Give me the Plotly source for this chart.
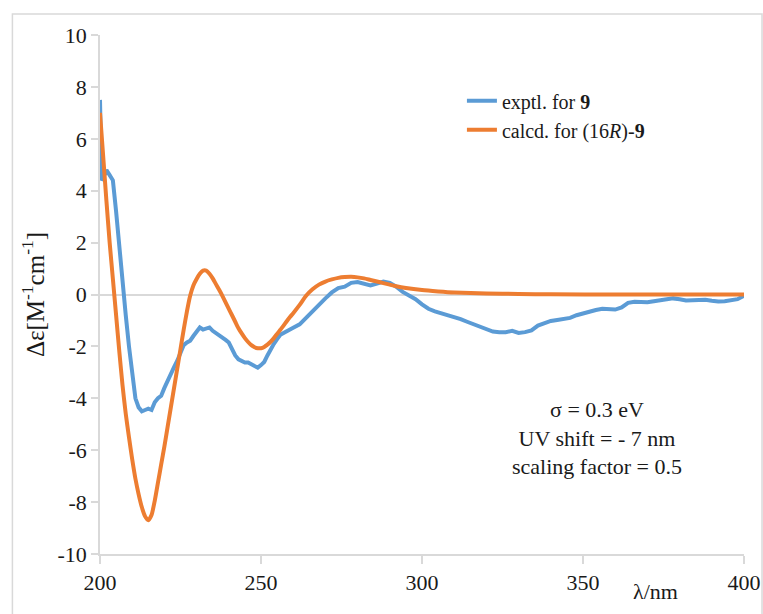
import plotly.graph_objects as go

# Experimental CD (blue)
exp_wl = [200, 200.5, 201, 202, 203, 204, 205, 206, 207, 208, 209, 210, 211, 212, 213, 214, 215, 216,
          217, 218, 219, 220, 221, 222, 223, 224, 225, 226, 227, 228, 229, 230, 231, 232, 233, 234,
          235, 236, 237, 238, 239, 240, 241, 242, 243, 244, 245, 246, 247, 248, 249, 250, 251, 252,
          253, 254, 255, 256, 257, 258, 260, 262, 264, 266, 268, 270, 272, 274, 276, 278, 280, 282,
          284, 286, 288, 290, 292, 294, 296, 298, 300, 302, 304, 306, 308, 310, 312, 314, 316, 318,
          320, 322, 324, 326, 328, 330, 332, 334, 336, 338, 340, 342, 344, 346, 348, 350, 352, 354,
          356, 358, 360, 362, 364, 366, 368, 370, 372, 374, 376, 378, 380, 382, 384, 386, 388, 390,
          392, 394, 396, 398, 400]
exp_de = [7.5, 4.4, 4.5, 4.8, 4.6, 4.4, 3.2, 1.8, 0.3, -0.8, -2.0, -3.0, -4.0, -4.35, -4.5, -4.45,
          -4.4, -4.45, -4.15, -4.0, -3.9, -3.6, -3.3, -3.0, -2.8, -2.55, -2.2, -1.95, -1.85, -1.78,
          -1.6, -1.4, -1.27, -1.35, -1.3, -1.27, -1.4, -1.48, -1.55, -1.65, -1.75, -1.85, -2.1,
          -2.35, -2.5, -2.55, -2.62, -2.62, -2.68, -2.72, -2.82, -2.72, -2.6, -2.35, -2.1, -1.9,
          -1.72, -1.55, -1.48, -1.4, -1.28, -1.15, -0.9, -0.63, -0.35, -0.15, 0.08, 0.25, 0.3,
          0.45, 0.48, 0.42, 0.35, 0.42, 0.5, 0.45, 0.3, 0.1, -0.05, -0.18, -0.38, -0.55, -0.65,
          -0.72, -0.8, -0.85, -0.95, -1.05, -1.15, -1.25, -1.35, -1.43, -1.45, -1.45, -1.4, -1.48,
          -1.45, -1.38, -1.2, -1.1, -1.02, -0.98, -0.95, -0.9, -0.8, -0.72, -0.65, -0.6, -0.55,
          -0.56, -0.58, -0.5, -0.32, -0.28, -0.3, -0.3, -0.26, -0.22, -0.2, -0.15, -0.18, -0.23,
          -0.22, -0.2, -0.2, -0.24, -0.27, -0.26, -0.23, -0.18, -0.05]

# Calculated CD (orange)
calc_wl = [200, 201, 202, 203, 204, 205, 206, 207, 208, 209, 210, 211, 212, 213, 214, 215, 216, 217,
           218, 219, 220, 221, 222, 223, 224, 225, 226, 227, 228, 229, 230, 231, 232, 233, 234, 235,
           236, 237, 238, 239, 240, 241, 242, 243, 244, 245, 246, 247, 248, 249, 250, 251, 252, 253,
           254, 255, 256, 257, 258, 259, 260, 262, 264, 266, 268, 270, 272, 274, 276, 278, 280, 282,
           284, 286, 288, 290, 292, 295, 300, 305, 310, 320, 330, 340, 360, 400]
calc_de = [7.0, 5.3, 3.6, 2.0, 0.6, -0.8, -2.2, -3.5, -4.6, -5.5, -6.35, -7.1, -7.7, -8.2, -8.55,
           -8.7, -8.5, -7.95, -7.25, -6.55, -5.85, -5.1, -4.35, -3.6, -2.85, -2.1, -1.35, -0.65,
           -0.05, 0.35, 0.6, 0.8, 0.92, 0.92, 0.8, 0.62, 0.4, 0.18, -0.05, -0.3, -0.55, -0.8,
           -1.05, -1.3, -1.5, -1.68, -1.83, -1.95, -2.03, -2.07, -2.07, -2.02, -1.93, -1.82, -1.68,
           -1.52, -1.36, -1.2, -1.03, -0.87, -0.72, -0.4, -0.05, 0.2, 0.38, 0.5, 0.58, 0.64, 0.67,
           0.68, 0.66, 0.62, 0.56, 0.5, 0.44, 0.38, 0.32, 0.25, 0.17, 0.12, 0.08, 0.04, 0.02, 0.01,
           0.0, 0.0]

x_ticks = [200, 250, 300, 350, 400]
y_ticks = [-10, -8, -6, -4, -2, 0, 2, 4, 6, 8, 10]

FONT = "Liberation Serif, Times New Roman, serif"
BLUE = "#5B9BD5"
ORANGE = "#ED7D31"
AXIS_GRAY = "#D9D9D9"
TXT = "#1a1a1a"

fig = go.Figure()
fig.add_trace(go.Scatter(x=exp_wl, y=exp_de, mode="lines", name="exptl. for <b>9</b>",
                         line=dict(color=BLUE, width=4)))
fig.add_trace(go.Scatter(x=calc_wl, y=calc_de, mode="lines", name="calcd. for (16<i>R</i>)-<b>9</b>",
                         line=dict(color=ORANGE, width=4, shape="spline", smoothing=0.6)))

fig.update_layout(
    width=763, height=614,
    margin=dict(l=100, r=19, t=35, b=60, autoexpand=False),
    paper_bgcolor="white", plot_bgcolor="white",
    font=dict(family=FONT, size=21, color=TXT),
    showlegend=True,
    legend=dict(x=0.562, y=0.911, xanchor="left", yanchor="top", bgcolor="rgba(0,0,0,0)",
                font=dict(family=FONT, size=20, color=TXT), tracegroupgap=0,
                itemwidth=30),
    xaxis=dict(range=[200, 400], tickvals=x_ticks, ticktext=[str(v) for v in x_ticks],
               showgrid=False, zeroline=False, showline=True, linecolor=AXIS_GRAY, linewidth=1.5,
               ticks="outside", ticklen=8, tickcolor=AXIS_GRAY, tickwidth=1.5, automargin=False,
               tickfont=dict(family=FONT, size=22, color=TXT)),
    yaxis=dict(range=[-10, 10], tickvals=y_ticks, ticktext=[str(v) for v in y_ticks],
               showgrid=False, zeroline=True, zerolinecolor=AXIS_GRAY, zerolinewidth=1.5,
               showline=True, linecolor=AXIS_GRAY, linewidth=1.5, automargin=False,
               ticks="outside", ticklen=7, tickcolor=AXIS_GRAY, tickwidth=1.5,
               tickfont=dict(family=FONT, size=22, color=TXT),
               title=dict(text="Δε[M<sup>-1</sup>cm<sup>-1</sup>]", standoff=6,
                          font=dict(family=FONT, size=25, color=TXT))),
)

# chart area border
fig.add_shape(type="rect", xref="paper", yref="paper", x0=-0.136, x1=1.028, y0=-0.3, y1=1.0405,
              line=dict(color=AXIS_GRAY, width=1.5), fillcolor="rgba(0,0,0,0)", layer="below")

fig.add_annotation(x=0.862, y=-0.073, xref="paper", yref="paper", text="λ/nm", showarrow=False,
                   xanchor="center", yanchor="middle",
                   font=dict(family=FONT, size=22, color=TXT))

fig.add_annotation(x=0.772, y=0.223, xref="paper", yref="paper",
                   text="σ = 0.3 eV<br>UV shift = ‑ 7 nm<br>scaling factor = 0.5",
                   showarrow=False, align="center", xanchor="center", yanchor="middle",
                   font=dict(family=FONT, size=22, color=TXT))

fig.write_html("out.html", config={"displayModeBar": False},
               post_script="document.body.style.margin='0';document.body.style.padding='0';")
